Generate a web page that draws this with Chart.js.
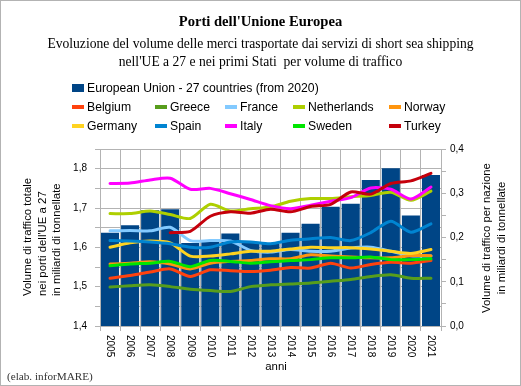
<!DOCTYPE html>
<html>
<head>
<meta charset="utf-8">
<script src="https://cdn.jsdelivr.net/npm/chart.js@4.4.1/dist/chart.umd.min.js"></script>
<style>
html,body{margin:0;padding:0;background:#fff;}
#wrap{position:relative;width:521px;height:386px;overflow:hidden;background:#fff;}
#frame{position:absolute;left:0;top:0;width:521px;height:386px;box-sizing:border-box;border:1px solid #b3b3b3;pointer-events:none;}
canvas{position:absolute;left:0;top:0;}
.t{position:absolute;left:0;width:521px;text-align:center;font-family:"Liberation Serif","Times New Roman",serif;color:#000;white-space:pre;}
.leg{position:absolute;font-family:"Liberation Sans",Arial,sans-serif;font-size:12.2px;line-height:14px;white-space:nowrap;color:#000;}
.sw{position:absolute;}
.foot{position:absolute;left:7px;top:369px;font-family:"Liberation Serif","Times New Roman",serif;font-size:11.2px;line-height:14px;color:#333;white-space:nowrap;}
</style>
</head>
<body>
<div id="wrap">
  <canvas id="c" width="521" height="386"></canvas>
  <div class="t" style="top:13px;font-size:14.6px;line-height:17px;font-weight:bold;">Porti dell'Unione Europea</div>
  <div class="t" style="top:36px;font-size:13.6px;line-height:16px;">Evoluzione del volume delle merci trasportate dai servizi di short sea shipping</div>
  <div class="t" style="top:54px;font-size:13.6px;line-height:16px;">nell'UE a 27 e nei primi Stati  per volume di traffico</div>
  <div id="legend"></div>
  <div class="foot">(elab. inforMARE)</div>
  <div id="frame"></div>
</div>
<script>
// ---- data ----
const years = ['2005','2006','2007','2008','2009','2010','2011','2012','2013','2014','2015','2016','2017','2018','2019','2020','2021'];
const euLabel = 'European Union - 27 countries (from 2020)';
const euTotal = [1.637,1.656,1.694,1.697,1.611,1.614,1.635,1.613,1.610,1.637,1.660,1.703,1.711,1.771,1.801,1.681,1.784];
const belgium = [0.108,0.114,0.122,0.129,0.112,0.127,0.125,0.123,0.126,0.132,0.131,0.142,0.131,0.139,0.144,0.142,0.148];
const greece = [0.088,0.091,0.093,0.089,0.083,0.080,0.078,0.089,0.093,0.095,0.097,0.101,0.105,0.112,0.116,0.108,0.108];
const france = [0.215,0.216,0.215,0.223,0.193,0.193,0.192,0.171,0.167,0.173,0.169,0.169,0.176,0.178,0.169,0.159,0.158];
const netherlands = [0.254,0.254,0.260,0.252,0.243,0.275,0.260,0.265,0.269,0.282,0.288,0.288,0.292,0.295,0.302,0.284,0.305];
const norway = [0.140,0.142,0.145,0.140,0.129,0.142,0.146,0.148,0.152,0.152,0.161,0.158,0.156,0.154,0.154,0.159,0.159];
const germany = [0.178,0.188,0.192,0.188,0.158,0.158,0.163,0.169,0.169,0.174,0.178,0.177,0.177,0.174,0.169,0.164,0.173];
const spain = [0.193,0.192,0.190,0.186,0.178,0.178,0.190,0.190,0.186,0.194,0.197,0.200,0.193,0.211,0.237,0.212,0.231];
const italy = [0.322,0.323,0.330,0.334,0.309,0.311,0.299,0.286,0.272,0.265,0.273,0.282,0.290,0.312,0.309,0.287,0.314];
const sweden = [0.136,0.140,0.142,0.146,0.134,0.148,0.146,0.142,0.145,0.148,0.150,0.154,0.154,0.156,0.150,0.150,0.152];
const turkey = [null,null,null,0.211,0.214,0.248,0.258,0.255,0.264,0.258,0.270,0.275,0.303,0.298,0.322,0.328,0.345];
const countryNames = ['Belgium','Greece','France','Netherlands','Norway','Germany','Spain','Italy','Sweden','Turkey'];
const countryValues = [belgium,greece,france,netherlands,norway,germany,spain,italy,sweden,turkey];
const leftTicks = {min:1.4, max:1.85, step:0.05};
const rightTicks = {min:0, max:0.4, step:0.05};

// ---- styles ----
const euColor = '#004586';
const countryColors = ['#ff420e','#579d1c','#83caff','#aecf00','#ff950e','#ffd320','#0084d1','#ff00ff','#00e600','#c5000b'];
const gridColor = '#b3b3b3';
const FONT = '"Liberation Sans", Arial, sans-serif';

// ---- HTML legend ----
(function(){
  const leg = document.getElementById('legend');
  const colX = [72,155,225,293,389];
  const rowY = [88,107,126];
  function add(x, y, color, text, isBar){
    const sw = document.createElement('div');
    sw.className = 'sw';
    sw.style.left = x + 'px';
    sw.style.width = '12px';
    sw.style.background = color;
    if (isBar){ sw.style.top = (y-4)+'px'; sw.style.height='8px'; }
    else { sw.style.top = (y-2)+'px'; sw.style.height='4px'; }
    leg.appendChild(sw);
    const t = document.createElement('div');
    t.className = 'leg';
    t.style.left = (x+15)+'px';
    t.style.top = (y-7)+'px';
    t.textContent = text;
    leg.appendChild(t);
  }
  add(colX[0], rowY[0], euColor, euLabel, true);
  countryNames.forEach((n,i)=>{
    add(colX[i%5], rowY[1+Math.floor(i/5)], countryColors[i], n, false);
  });
})();

function fmt(v){
  const r = Math.round(v*10);
  if (Math.abs(v*10 - r) < 1e-6) return (r/10).toFixed(1).replace('.', ',');
  return '';
}

const customText = {
  id: 'customText',
  afterDraw(chart){
    const ctx = chart.ctx;
    const xs = chart.scales.x;
    ctx.save();
    ctx.fillStyle = '#000';
    ctx.font = '10px ' + FONT;
    ctx.textAlign = 'left';
    ctx.textBaseline = 'middle';
    years.forEach((lab, i) => {
      const px = xs.getPixelForTick(i);
      ctx.save();
      ctx.translate(px, 335);
      ctx.rotate(Math.PI/2);
      ctx.fillText(lab, 0, 0);
      ctx.restore();
    });
    ctx.font = '11.4px ' + FONT;
    // x axis title
    ctx.textAlign = 'center';
    ctx.fillText('anni', 276, 367);
    // left axis title (start-aligned, reading upward)
    const leftLines = ['Volume di traffico totale', "nei porti dell'UE a 27", 'in miliardi di tonnellate'];
    const leftX = [28, 43, 57];
    ctx.textAlign = 'left';
    leftLines.forEach((l, i) => {
      ctx.save();
      ctx.translate(leftX[i], 296);
      ctx.rotate(-Math.PI/2);
      ctx.fillText(l, 0, 0);
      ctx.restore();
    });
    // right axis title (centered)
    const rightLines = ['Volume di traffico per nazione', 'in miliardi di tonnellate'];
    const rightX = [487, 502];
    ctx.textAlign = 'center';
    rightLines.forEach((l, i) => {
      ctx.save();
      ctx.translate(rightX[i], 238);
      ctx.rotate(-Math.PI/2);
      ctx.fillText(l, 0, 0);
      ctx.restore();
    });
    ctx.restore();
  }
};

const datasets = [{
  type: 'bar',
  label: euLabel,
  data: euTotal,
  backgroundColor: euColor,
  borderWidth: 0,
  yAxisID: 'y',
  order: 100,
  barPercentage: 0.9,
  categoryPercentage: 1.0
}];
countryNames.forEach((n, i) => {
  datasets.push({
    type: 'line',
    label: n,
    data: countryValues[i],
    borderColor: countryColors[i],
    backgroundColor: countryColors[i],
    borderWidth: 3,
    pointRadius: 0,
    tension: 0.25,
    fill: false,
    spanGaps: false,
    yAxisID: 'y1',
    order: 10 - i,
    borderJoinStyle: 'round',
    borderCapStyle: 'round'
  });
});

new Chart(document.getElementById('c'), {
  data: { labels: years, datasets },
  options: {
    responsive: false,
    animation: false,
    devicePixelRatio: 1,
    events: [],
    layout: { padding: { top: 149, left: 0, right: 0, bottom: 0 } },
    plugins: { legend: { display: false }, tooltip: { enabled: false }, title: { display: false } },
    scales: {
      x: {
        type: 'category',
        offset: true,
        grid: { color: gridColor, offset: true, drawTicks: true, tickLength: 5, lineWidth: 1 },
        border: { color: gridColor },
        ticks: { display: false },
        afterFit(s){ s.height = 60; }
      },
      y: {
        position: 'left',
        min: leftTicks.min, max: leftTicks.max,
        grid: { color: gridColor, tickLength: 5, lineWidth: 1 },
        border: { color: gridColor },
        ticks: { stepSize: leftTicks.step, color: '#000', font: { size: 10, family: FONT }, padding: 8, callback: v => fmt(v) },
        afterFit(s){ s.width = 100; }
      },
      y1: {
        position: 'right',
        min: rightTicks.min, max: rightTicks.max,
        grid: { drawOnChartArea: false, color: gridColor, tickLength: 5 },
        border: { color: gridColor },
        ticks: { stepSize: rightTicks.step, color: '#000', font: { size: 10, family: FONT }, padding: 4, callback: v => fmt(v) },
        afterFit(s){ s.width = 80; }
      }
    }
  },
  plugins: [customText]
});
</script>
</body>
</html>
